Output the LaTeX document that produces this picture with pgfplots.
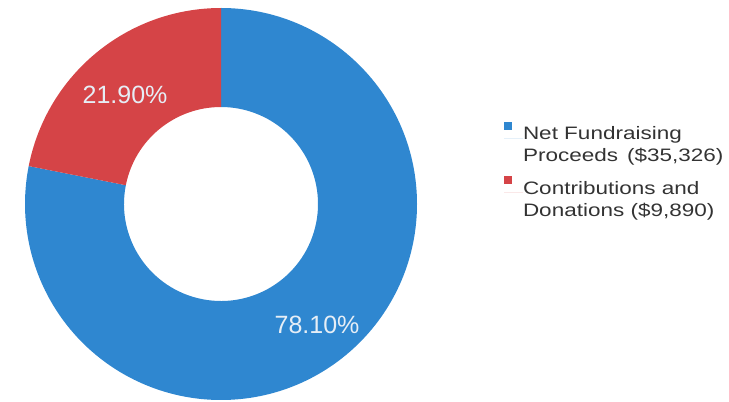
\documentclass[border=0pt]{standalone}
\usepackage{fontspec}
\setmainfont{Liberation Sans}
\newfontfamily\legfont{Liberation Sans}[FakeStretch=1.25]
\usepackage{pgfplots}
\usepackage{pgfplotstable}
\usetikzlibrary{calc}
\pgfplotsset{compat=1.18}
\definecolor{cblue}{HTML}{2F87D0}
\definecolor{cred}{HTML}{D54447}
\definecolor{ctext}{HTML}{333333}
\definecolor{plabel}{HTML}{E6EEF6}

\pgfplotstableread{
label value pct
Net   35326 78.10
Contr 9890  21.90
}\donutdata

\begin{document}
\begin{tikzpicture}
\pgfplotstablegetelem{0}{pct}\of\donutdata
\pgfmathsetmacro{\pA}{\pgfplotsretval}
\pgfplotstablegetelem{1}{pct}\of\donutdata
\pgfmathsetmacro{\pB}{\pgfplotsretval}
\pgfmathsetmacro{\aStart}{90}
\pgfmathsetmacro{\aMid}{90-3.6*\pA}
\pgfmathsetmacro{\aEnd}{\aMid-3.6*\pB}
\def\Ro{196pt}
\def\Ri{97pt}
\begin{axis}[
  width=729pt, height=402pt, scale only axis,
  xmin=0, xmax=729, ymin=0, ymax=402,
  hide axis, clip=false,
  legend cell align=left,
  legend style={at={(axis cs:504,280.4)}, anchor=north west, draw=none, fill=none,
    inner sep=0pt, outer sep=0pt, row sep=24pt,
    nodes={inner sep=0pt, outer sep=0pt, text=ctext, font=\legfont\fontsize{18}{22}\selectfont}},
  legend image code/.code={%
    \fill[#1] (0pt,8.6pt) rectangle (8pt,16.6pt);
    \path (0pt,0pt) -- (19pt,0pt);
  },
]
\addlegendimage{fill=cblue, draw=none}
\addlegendentry{\begin{tabular}{@{}l@{}}Net Fundraising\\Proceeds\enspace(\$35,326)\end{tabular}}
\addlegendimage{fill=cred, draw=none}
\addlegendentry{\begin{tabular}{@{}l@{}}Contributions and\\Donations (\$9,890)\end{tabular}}

\fill[cblue] (axis cs:221,198) ++(\aStart:\Ro) arc[start angle=\aStart, end angle=\aMid, radius=\Ro]
  -- ($(axis cs:221,198)+(\aMid:\Ri)$) arc[start angle=\aMid, end angle=\aStart, radius=\Ri] -- cycle;
\fill[cred] (axis cs:221,198) ++(\aMid:\Ro) arc[start angle=\aMid, end angle=\aEnd, radius=\Ro]
  -- ($(axis cs:221,198)+(\aEnd:\Ri)$) arc[start angle=\aEnd, end angle=\aMid, radius=\Ri] -- cycle;

\node[text=plabel, font=\fontsize{25}{30}\selectfont] at (axis cs:125,307) {21.90\%};
\node[text=plabel, font=\fontsize{25}{30}\selectfont] at (axis cs:317,77) {78.10\%};
\end{axis}
\pgfresetboundingbox
\useasboundingbox (0,0) rectangle (729pt,402pt);
\end{tikzpicture}
\end{document}
